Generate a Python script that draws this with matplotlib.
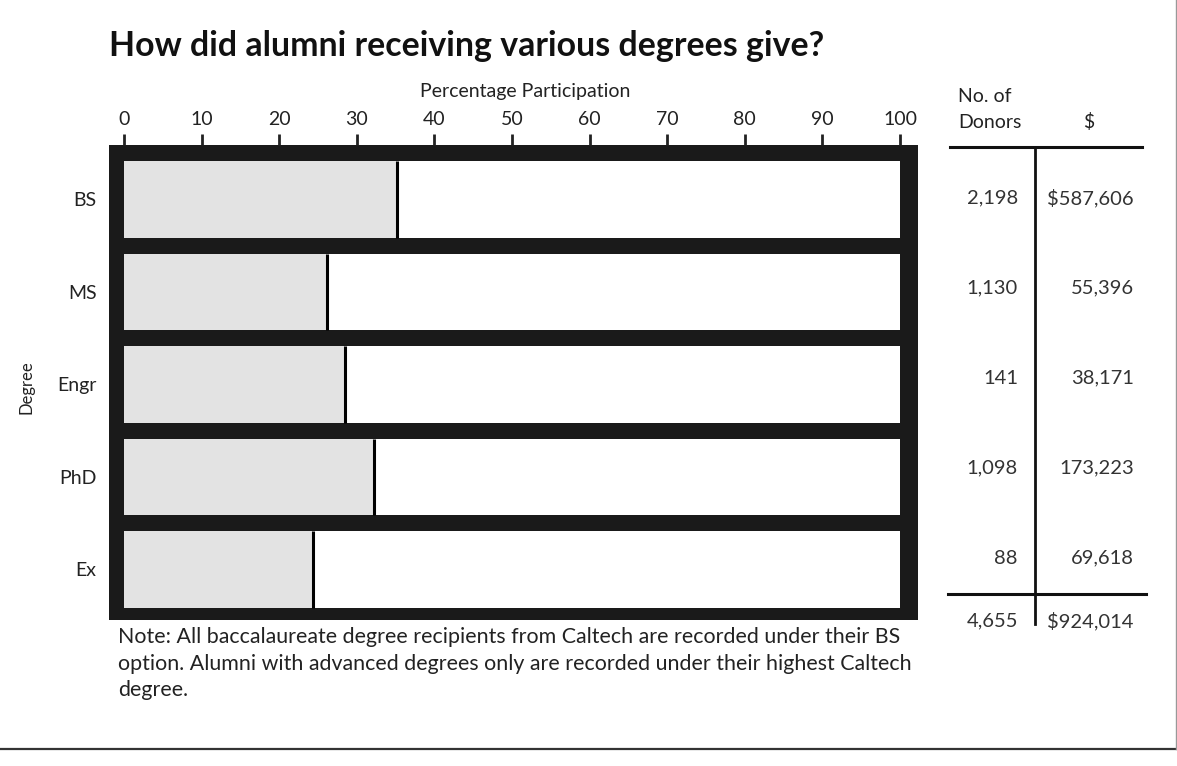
import numpy as np
import matplotlib
matplotlib.use('Agg')
import matplotlib.pyplot as plt
from matplotlib.lines import Line2D

W, H = 1177, 766
plt.rcParams['font.family'] = ['Lato', 'DejaVu Sans']

# data
degrees = ['BS', 'MS', 'Engr', 'PhD', 'Ex']
participation = [35.2, 26.2, 28.5, 32.2, 24.4]
donors = ['2,198', '1,130', '141', '1,098', '88']
dollars = ['$587,606', '55,396', '38,171', '173,223', '69,618']
total_donors = '4,655'
total_dollars = '$924,014'
xticks = list(range(0, 101, 10))


def px(x, y):
    # pixel position (from top-left) -> figure fraction
    return x / W, 1 - y / H


fig = plt.figure(figsize=(W / 100, H / 100), dpi=100)
fig.patch.set_facecolor('white')

# the thick black frame is the axes background
ax = fig.add_axes([109 / W, 1 - 620 / H, (918 - 109) / W, (620 - 145) / H])
ax.set_facecolor('#1a1a1a')
ypos = np.arange(len(degrees))
bar_h = 0.83
ax.barh(ypos, [100] * len(degrees), height=bar_h, color='white', left=0)
ax.barh(ypos, participation, height=bar_h, color='#e3e3e3', edgecolor='none')
ax.vlines(participation, ypos - bar_h / 2, ypos + bar_h / 2, color='black', lw=2.2)

ax.set_xlim(-15 / 7.76, 100 + 18 / 7.76)
ax.set_ylim(4 + 50.5 / 92.5, -54.5 / 92.5)
for s in ax.spines.values():
    s.set_visible(False)

ax.xaxis.tick_top()
ax.set_xticks(xticks)
ax.set_xticklabels([str(t) for t in xticks])
ax.tick_params(axis='x', direction='out', length=8, width=2, pad=4,
               labelsize=14, colors='#222222')
ax.set_yticks(ypos)
ax.set_yticklabels(degrees)
ax.tick_params(axis='y', length=0, pad=9, labelsize=14, labelcolor='#222222')

# title
title = fig.text(*px(109, 46), 'How did alumni receiving various degrees give?',
                 fontsize=21, fontweight='bold', ha='left', va='center', color='#111111')
fig.canvas.draw()
tw = title.get_window_extent().width
title.set_fontsize(21 * 712 / tw)

fig.text(*px(525, 91), 'Percentage Participation', fontsize=14,
         ha='center', va='center', color='#222222')
fig.text(*px(27, 387), 'Degree', fontsize=12, rotation=90,
         ha='center', va='center', color='#222222')

# table on the right
fig.text(*px(958, 97), 'No. of', fontsize=14, ha='left', va='center', color='#222222')
fig.text(*px(958, 122), 'Donors', fontsize=14, ha='left', va='center', color='#222222')
fig.text(*px(1089, 122), '$', fontsize=14, ha='center', va='center', color='#222222')
for i in range(len(degrees)):
    y = 198 + 90 * i
    fig.text(*px(1018, y), donors[i], fontsize=14.5, ha='right', va='center', color='#333333')
    fig.text(*px(1134, y), dollars[i], fontsize=14.5, ha='right', va='center', color='#333333')
fig.text(*px(1018, 621), total_donors, fontsize=14.5, ha='right', va='center', color='#333333')
fig.text(*px(1134, 621), total_dollars, fontsize=14.5, ha='right', va='center', color='#333333')

lines = [
    ((950, 147), (1142, 147), 2.2),
    ((1035, 147), (1035, 624), 2.0),
    ((948, 594), (1146, 594), 2.2),
]
for (x0, y0), (x1, y1), lw in lines:
    a, b = px(x0, y0)
    c, d = px(x1, y1)
    fig.add_artist(Line2D([a, c], [b, d], transform=fig.transFigure, color='#111111', lw=lw))

# note
note = ['Note: All baccalaureate degree recipients from Caltech are recorded under their BS',
        'option. Alumni with advanced degrees only are recorded under their highest Caltech',
        'degree.']
note_texts = [fig.text(*px(118, 637 + 26.5 * i), line, fontsize=13.3, ha='left',
                       va='center', color='#222222') for i, line in enumerate(note)]
fig.canvas.draw()
nw = note_texts[0].get_window_extent().width
for t in note_texts:
    t.set_fontsize(13.3 * 782 / nw)

# page border
a, b = px(0, 749)
c, d = px(1177, 749)
fig.add_artist(Line2D([a, c], [b, d], transform=fig.transFigure, color='#333333', lw=1.6))
a, b = px(1176, 0)
c, d = px(1176, 749)
fig.add_artist(Line2D([a, c], [b, d], transform=fig.transFigure, color='#999999', lw=1.0))

fig.savefig('out.png', dpi=100)
